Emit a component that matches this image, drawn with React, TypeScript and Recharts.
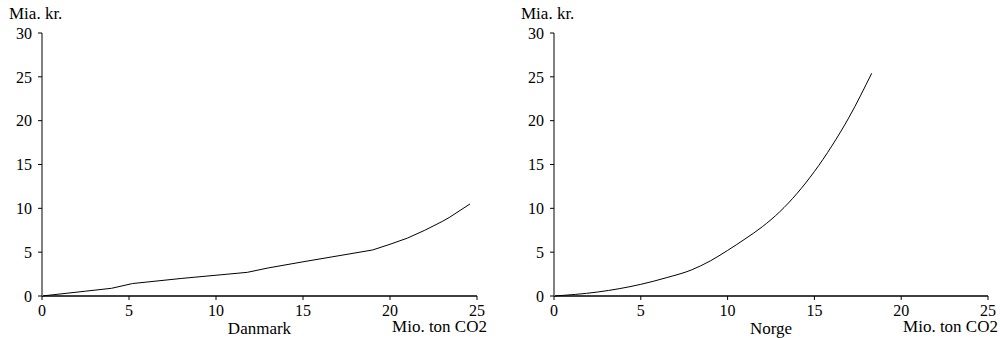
import React from "react";
import { LineChart, Line, XAxis, YAxis } from "recharts";

// Danmark: cumulative cost curve (Mio. ton CO2 -> Mia. kr.)
const dkReduction = [0, 2.5, 4.0, 4.6, 5.2, 8, 11.8, 13, 15, 19, 20, 21, 22, 23, 23.4, 24.6];
const dkCost = [0, 0.55, 0.88, 1.15, 1.42, 2.0, 2.7, 3.2, 3.9, 5.25, 5.9, 6.6, 7.5, 8.5, 8.95, 10.5];

// Norge
const noReduction = [0, 2.5, 5, 6.5, 7.9, 9, 10, 11, 12, 13, 14, 15, 16, 17, 18.3];
const noCost = [0, 0.45, 1.33, 2.1, 2.96, 4.0, 5.2, 6.5, 7.9, 9.6, 11.7, 14.2, 17.1, 20.4, 25.4];

const xTicks = [0, 5, 10, 15, 20, 25];
const yTicks = [0, 5, 10, 15, 20, 25, 30];

const font = "Times New Roman, Liberation Serif, Tinos, DejaVu Serif, serif";

interface PanelProps {
  xs: number[];
  ys: number[];
  title: string;
  yAxisWidth: number;
  rightMargin: number;
  curve: "linear" | "monotone";
}

function Panel({ xs, ys, title, yAxisWidth, rightMargin, curve }: PanelProps) {
  const data = xs.map((x, i) => ({ x, y: ys[i] }));
  const plotLeft = yAxisWidth;
  const plotRight = 500 - rightMargin;

  return (
    <div style={{ position: "absolute", top: 0, width: 500, height: 338, fontFamily: font }}>
      <LineChart
        width={500}
        height={338}
        data={data}
        margin={{ top: 33, right: rightMargin, bottom: 0, left: 0 }}
        style={{ fontFamily: font }}
      >
        <XAxis
          dataKey="x"
          type="number"
          domain={[0, 25]}
          ticks={xTicks}
          interval={0}
          height={42}
          tickSize={4}
          tickMargin={5}
          axisLine={{ stroke: "#000", strokeWidth: 1.5 }}
          tickLine={{ stroke: "#000" }}
          tick={{ fill: "#000", fontSize: 16, fontFamily: font }}
        />
        <YAxis
          type="number"
          domain={[0, 30]}
          ticks={yTicks}
          interval={0}
          width={yAxisWidth}
          tickSize={4}
          tickMargin={6}
          axisLine={{ stroke: "#808080", strokeWidth: 2 }}
          tickLine={{ stroke: "#000" }}
          tick={{ fill: "#000", fontSize: 16, fontFamily: font }}
        />
        <Line
          type={curve}
          dataKey="y"
          stroke="#000"
          strokeWidth={1}
          dot={false}
          isAnimationActive={false}
        />
      </LineChart>
      <div
        style={{
          position: "absolute",
          left: plotLeft - 33,
          top: 5,
          fontSize: 17,
          lineHeight: "18px",
          whiteSpace: "nowrap",
        }}
      >
        Mia. kr.
      </div>
      <div
        style={{
          position: "absolute",
          right: 500 - plotRight - 10,
          top: 318,
          fontSize: 17,
          lineHeight: "18px",
          whiteSpace: "nowrap",
        }}
      >
        Mio. ton CO2
      </div>
      <div
        style={{
          position: "absolute",
          left: plotLeft,
          width: plotRight - plotLeft,
          top: 320,
          textAlign: "center",
          fontSize: 17,
          lineHeight: "18px",
          whiteSpace: "nowrap",
        }}
      >
        {title}
      </div>
    </div>
  );
}

export default function App() {
  return (
    <div
      style={{
        position: "absolute",
        left: 0,
        top: 0,
        width: 1000,
        height: 338,
        background: "#fff",
        overflow: "hidden",
      }}
    >
      <div style={{ position: "absolute", left: 0, top: 0 }}>
        <Panel
          xs={dkReduction}
          ys={dkCost}
          title="Danmark"
          yAxisWidth={42}
          rightMargin={23}
          curve="linear"
        />
      </div>
      <div style={{ position: "absolute", left: 500, top: 0 }}>
        <Panel
          xs={noReduction}
          ys={noCost}
          title="Norge"
          yAxisWidth={54}
          rightMargin={12}
          curve="monotone"
        />
      </div>
    </div>
  );
}
